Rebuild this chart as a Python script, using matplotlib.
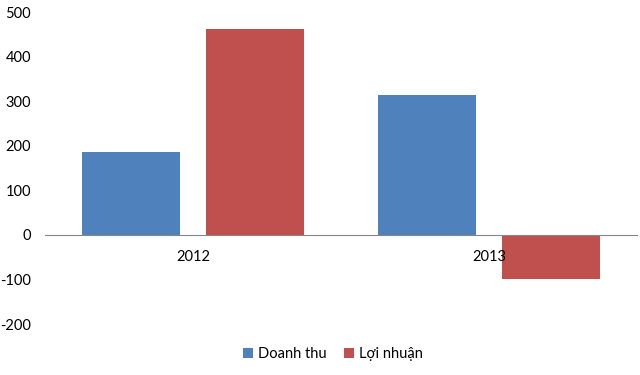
import matplotlib.pyplot as plt
import numpy as np

# Dữ liệu
years = ['2012', '2013']
doanh_thu = [185, 313]
loi_nhuan = [461, -100]

plt.rcParams['font.family'] = ['Lato', 'DejaVu Sans']
plt.rcParams['axes.unicode_minus'] = False

fig = plt.figure(figsize=(6.4, 3.75), dpi=100)
ax = fig.add_axes([0.0703, 0.136, 0.925, 0.832])

x = np.arange(len(years))
w = 0.331
ax.bar(x - 0.208, doanh_thu, w, color='#4F81BD', label='Doanh thu')
ax.bar(x + 0.208, loi_nhuan, w, color='#C0504D', label='Lợi nhuận')

ax.set_xlim(-0.5, 1.5)
ax.set_ylim(-200, 500)
ax.set_yticks(range(-200, 501, 100))
ax.set_xticks(x)
ax.set_xticklabels(years)

for s in ['top', 'right', 'left']:
    ax.spines[s].set_visible(False)
ax.spines['bottom'].set_position(('data', 0))
ax.spines['bottom'].set_color('#868686')
ax.tick_params(axis='x', length=0, pad=11, labelsize=10.5)
ax.tick_params(axis='y', length=0, pad=10, labelsize=10.5)

fig.legend(loc='center', bbox_to_anchor=(0.52, 0.056), ncol=2, frameon=False,
           fontsize=10.5, handlelength=0.7, handleheight=0.7, handletextpad=0.3,
           columnspacing=1.2)

fig.savefig('out.png')
